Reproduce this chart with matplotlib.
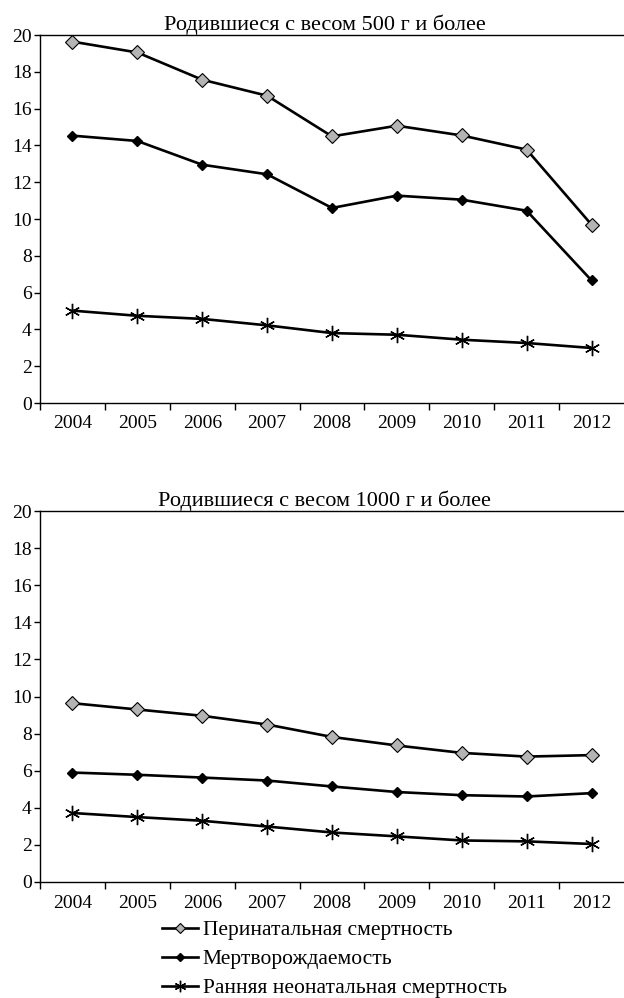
import matplotlib
matplotlib.use("Agg")
import matplotlib.pyplot as plt

years = ["2004", "2005", "2006", "2007", "2008", "2009", "2010", "2011", "2012"]

# Родившиеся с весом 500 г и более
perinat_500 = [19.64, 19.05, 17.57, 16.70, 14.49, 15.07, 14.54, 13.77, 9.69]
stillb_500 = [14.53, 14.24, 12.95, 12.43, 10.60, 11.27, 11.05, 10.45, 6.66]
neonat_500 = [5.02, 4.74, 4.57, 4.22, 3.80, 3.71, 3.44, 3.26, 2.99]

# Родившиеся с весом 1000 г и более
perinat_1000 = [9.64, 9.30, 8.96, 8.49, 7.82, 7.36, 6.96, 6.76, 6.84]
stillb_1000 = [5.90, 5.78, 5.63, 5.47, 5.15, 4.85, 4.68, 4.61, 4.79]
neonat_1000 = [3.72, 3.50, 3.30, 2.99, 2.67, 2.46, 2.24, 2.19, 2.05]

labels = ["Перинатальная смертность", "Мертворождаемость",
          "Ранняя неонатальная смертность"]

plt.rcParams["font.family"] = ["Liberation Serif", "DejaVu Serif"]

fig = plt.figure(figsize=(6.24, 9.98), dpi=100)
ax1 = fig.add_axes([40 / 624, 1 - 403 / 998, 1 - 40 / 624, 368 / 998])
ax2 = fig.add_axes([40 / 624, 1 - 882 / 998, 1 - 40 / 624, 371 / 998])


def draw(ax, per, sti, neo, title):
    x = range(len(years))
    ax.plot(x, per, "-", color="black", lw=1.9, marker="D", ms=7,
            mfc="#b4b4b4", mec="black", mew=0.8, label=labels[0])
    ax.plot(x, sti, "-", color="black", lw=1.9, marker="D", ms=5.5,
            mfc="black", mec="black", label=labels[1])
    ax.plot(x, neo, "-", color="black", lw=1.9, marker=(6, 2, 0), ms=11,
            mec="black", mew=1.0, label=labels[2])
    ax.set_xlim(-0.5, len(years) - 0.5)
    ax.set_ylim(0, 20)
    ax.set_yticks(range(0, 21, 2))
    ax.set_xticks([i + 0.5 for i in range(-1, len(years) - 1)], minor=False)
    ax.set_xticklabels([])
    ax.set_xticks(list(x), minor=True)
    ax.set_xticklabels(years, minor=True)
    ax.tick_params(axis="x", which="major", length=5, width=1, direction="out")
    ax.tick_params(axis="x", which="minor", length=0, pad=9, labelsize=14)
    ax.tick_params(axis="y", length=4, width=1, direction="out", labelsize=14,
                   pad=2)
    ax.spines["right"].set_visible(False)
    for s in ["left", "bottom", "top"]:
        ax.spines[s].set_linewidth(1.0)
    ax.set_title(title, fontsize=16, pad=1, x=0.487)


draw(ax1, perinat_500, stillb_500, neonat_500,
     "Родившиеся с весом 500 г и более")
draw(ax2, perinat_1000, stillb_1000, neonat_1000,
     "Родившиеся с весом 1000 г и более")

handles, _ = ax2.get_legend_handles_labels()
fig.legend(handles, labels, loc="upper left",
           bbox_to_anchor=(162 / 624, 1 - 920 / 998), frameon=False,
           fontsize=15.5, handlelength=1.65, handletextpad=0.25,
           labelspacing=0.42, borderpad=0, borderaxespad=0, markerscale=0.75)

fig.savefig("out.png", dpi=100)
